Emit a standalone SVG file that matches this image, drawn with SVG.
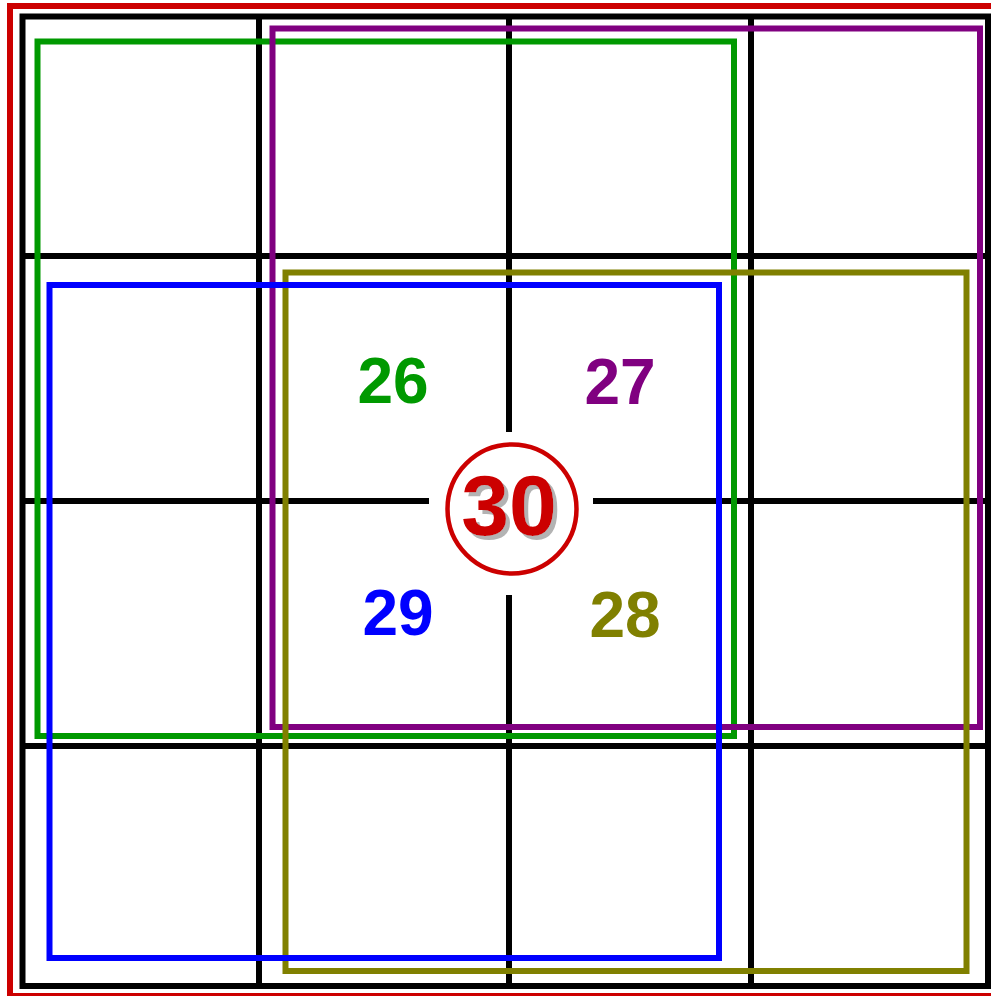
<svg xmlns="http://www.w3.org/2000/svg" width="991" height="996" viewBox="0 0 991 996">
<style>
.frame{fill:none;stroke-width:6}
.grid{stroke:#000;stroke-width:6;fill:none}
.lbl{font-family:"Liberation Sans",Arial,sans-serif;font-weight:bold;font-size:64px;text-anchor:middle}
.big{font-family:"Liberation Sans",Arial,sans-serif;font-weight:bold;font-size:86px;text-anchor:middle}
</style>
<defs>
<filter id="shadow" x="-20%" y="-20%" width="140%" height="140%">
<feDropShadow dx="4" dy="4" stdDeviation="0.6" flood-color="#aaaaaa" flood-opacity="0.9"/>
</filter>
</defs>
<rect width="991" height="996" fill="#fff"/>
<g id="outer-frame">
<rect class="frame" x="10" y="6" width="1000" height="990" stroke="#cc0000"/>
</g>
<g id="grid">
<rect class="grid" x="22.5" y="16.5" width="965.5" height="969.5"/>
<line class="grid" x1="259" y1="16.5" x2="259" y2="986"/>
<line class="grid" x1="751" y1="16.5" x2="751" y2="986"/>
<line class="grid" x1="22.5" y1="256" x2="988" y2="256"/>
<line class="grid" x1="22.5" y1="746" x2="988" y2="746"/>
<line class="grid" x1="509" y1="16.5" x2="509" y2="432"/>
<line class="grid" x1="509" y1="595" x2="509" y2="986"/>
<line class="grid" x1="22.5" y1="501" x2="429" y2="501"/>
<line class="grid" x1="593" y1="501" x2="988" y2="501"/>
</g>
<g id="square-26">
<rect class="frame" x="37.5" y="41.5" width="696.5" height="694.5" stroke="#009900"/>
</g>
<g id="square-27">
<rect class="frame" x="272.5" y="28.5" width="707.5" height="698.5" stroke="#800080"/>
</g>
<g id="square-28">
<rect class="frame" x="285.5" y="272.5" width="681" height="698.5" stroke="#808000"/>
</g>
<g id="square-29">
<rect class="frame" x="49.5" y="285" width="669.5" height="673" stroke="#0000ff"/>
</g>
<g id="labels">
<text class="lbl" x="393" y="403" fill="#009900">26</text>
<text class="lbl" x="620" y="404" fill="#800080">27</text>
<text class="lbl" x="398" y="635" fill="#0000ff">29</text>
<text class="lbl" x="625" y="637" fill="#808000">28</text>
</g>
<g id="center-30">
<circle cx="512" cy="509" r="64.5" fill="#fff" stroke="#cc0000" stroke-width="4.5"/>
<text class="big" x="509" y="535" fill="#cc0000" filter="url(#shadow)">30</text>
</g>
</svg>
